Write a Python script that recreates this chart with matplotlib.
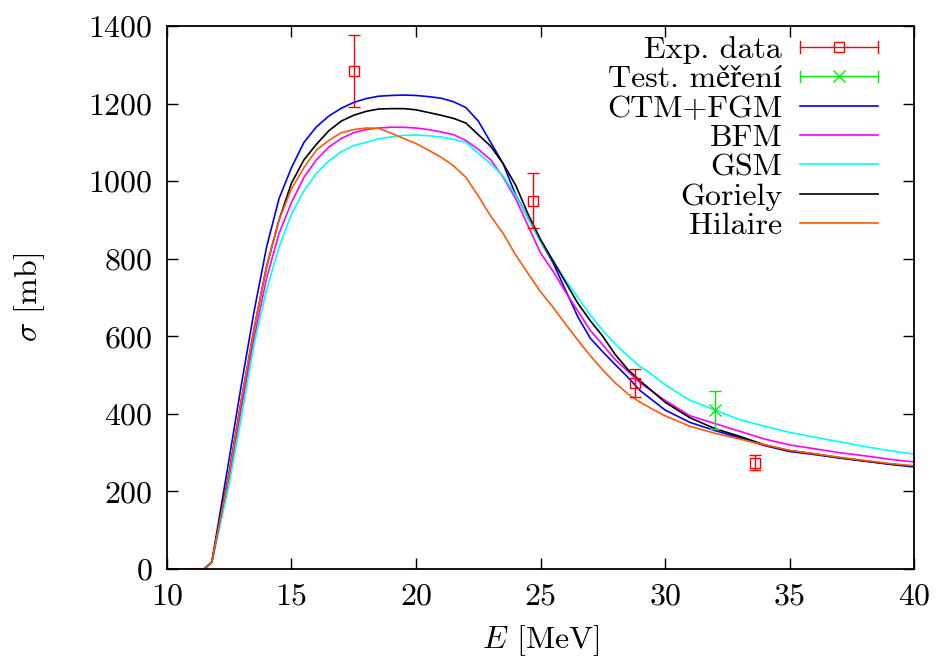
import matplotlib
matplotlib.use("Agg")
from matplotlib import pyplot as plt
from matplotlib.legend_handler import HandlerBase
from matplotlib.container import ErrorbarContainer
from matplotlib.lines import Line2D

plt.rcParams['font.family'] = ['cmr10', 'STIXGeneral', 'DejaVu Serif']
plt.rcParams['mathtext.fontset'] = 'cm'
plt.rcParams['axes.formatter.use_mathtext'] = True

# energy grid (MeV) for model curves
energy = [10, 11.5, 11.8, 12.5, 13, 13.5, 14, 14.5, 15, 15.5, 16, 16.5, 17, 17.5,
          18, 18.5, 19, 19.5, 20, 20.5, 21, 21.5, 22, 22.5, 23, 23.5, 24, 24.5,
          25, 25.5, 26, 26.5, 27, 27.5, 28, 28.5, 29, 29.5, 30, 31, 32, 33, 34,
          35, 36, 37, 38, 39, 40]

ctm_fgm = [0, 0, 18, 285, 480, 665, 830, 955, 1035, 1100, 1140, 1168, 1188, 1203,
           1213, 1219, 1221, 1222, 1221, 1218, 1214, 1205, 1190, 1155, 1100, 1045,
           965, 905, 845, 790, 720, 650, 595, 560, 527, 495, 460, 435, 410, 378,
           357, 338, 318, 303, 295, 286, 278, 270, 263]
bfm = [0, 0, 18, 235, 420, 595, 750, 865, 945, 1010, 1055, 1088, 1110, 1125,
       1133, 1137, 1139, 1139, 1137, 1133, 1127, 1120, 1105, 1082, 1055, 1010,
       955, 885, 815, 768, 715, 665, 615, 578, 540, 510, 480, 457, 435, 395,
       375, 355, 335, 320, 310, 300, 292, 283, 276]
gsm = [0, 0, 15, 220, 395, 580, 720, 830, 915, 975, 1020, 1052, 1076, 1092,
       1100, 1109, 1114, 1118, 1119, 1117, 1114, 1108, 1100, 1072, 1045, 1013,
       963, 905, 845, 795, 745, 700, 655, 615, 580, 550, 522, 500, 475, 435,
       410, 385, 368, 352, 340, 328, 316, 305, 296]
goriely = [0, 0, 18, 250, 440, 620, 780, 900, 995, 1055, 1095, 1130, 1155, 1170,
           1180, 1186, 1187, 1187, 1184, 1177, 1170, 1162, 1150, 1120, 1090, 1045,
           990, 915, 850, 795, 740, 685, 640, 600, 553, 515, 485, 458, 430, 390,
           362, 342, 320, 305, 297, 287, 279, 271, 265]
hilaire = [0, 0, 18, 245, 440, 620, 780, 900, 980, 1035, 1080, 1105, 1125, 1133,
           1137, 1136, 1124, 1110, 1097, 1080, 1062, 1040, 1010, 962, 910, 865,
           810, 762, 715, 675, 632, 590, 550, 513, 480, 452, 430, 412, 395, 368,
           350, 335, 320, 306, 297, 288, 280, 272, 266]

# experimental points
exp_e = [17.5, 24.7, 28.8, 33.6]
exp_sigma = [1284, 950, 480, 274]
exp_err = [92, 71, 36, 20]

test_e = [32.0]
test_sigma = [410]
test_err = [50]


class ErrHandler(HandlerBase):
    # gnuplot-like legend key: horizontal bar with end caps and the point marker
    def create_artists(self, legend, orig_handle, xdescent, ydescent, width,
                       height, fontsize, trans):
        data_line = orig_handle.lines[0]
        color = data_line.get_color()
        y = height / 2 - ydescent
        x0 = -xdescent
        x1 = x0 + width
        c = 4.0
        arts = [Line2D([x0, x1], [y, y], color=color, lw=1.0),
                Line2D([x0, x0], [y - c, y + c], color=color, lw=1.0),
                Line2D([x1, x1], [y - c, y + c], color=color, lw=1.0),
                Line2D([(x0 + x1) / 2], [y], color=color,
                       marker=data_line.get_marker(), markersize=data_line.get_markersize(),
                       markerfacecolor='none', markeredgewidth=1.0, linestyle='none')]
        for a in arts:
            a.set_transform(trans)
        return arts


fig = plt.figure(figsize=(9.37, 6.59), dpi=100)
ax = fig.add_axes([0.1782, 0.1366, 0.7973, 0.8239])

h_exp = ax.errorbar(exp_e, exp_sigma, yerr=exp_err, fmt='s', color='#ff0000',
                    markerfacecolor='none', markersize=7, capsize=4, elinewidth=1.0,
                    capthick=1.0, markeredgewidth=1.0, label='Exp. data', zorder=5)
h_test = ax.errorbar(test_e, test_sigma, yerr=test_err, fmt='x', color='#00ee00',
                     markersize=8, capsize=4, elinewidth=1.0, capthick=1.0,
                     markeredgewidth=1.0, label='Test. měření', zorder=5)

lw = 1.2
l1, = ax.plot(energy, ctm_fgm, color='#0000ff', lw=lw, label='CTM+FGM')
l2, = ax.plot(energy, bfm, color='#ff00ff', lw=lw, label='BFM')
l3, = ax.plot(energy, gsm, color='#00ffff', lw=lw, label='GSM')
l4, = ax.plot(energy, goriely, color='black', lw=lw, label='Goriely')
l5, = ax.plot(energy, hilaire, color='#ff5a0a', lw=lw, label='Hilaire')

ax.set_xlim(10, 40)
ax.set_ylim(0, 1400)
ax.set_xticks(range(10, 41, 5))
ax.set_yticks(range(0, 1401, 200))
ax.tick_params(direction='in', top=True, right=True, length=8, width=1.0,
               labelsize=23, pad=10)
for s in ax.spines.values():
    s.set_linewidth(1.3)

ax.set_xlabel(r'$E$ [MeV]', fontsize=23, labelpad=9)
ax.set_ylabel(r'$\sigma$ [mb]', fontsize=23, labelpad=30)

handles = [h_exp, h_test, l1, l2, l3, l4, l5]
ax.legend(handles, [h.get_label() for h in handles],
          loc='upper right', bbox_to_anchor=(0.952, 0.982), frameon=False,
          markerfirst=False, fontsize=23, handlelength=2.45, handletextpad=0.55,
          labelspacing=0.03, borderpad=0, borderaxespad=0,
          handler_map={ErrorbarContainer: ErrHandler()})

fig.savefig('out.png', dpi=100)
